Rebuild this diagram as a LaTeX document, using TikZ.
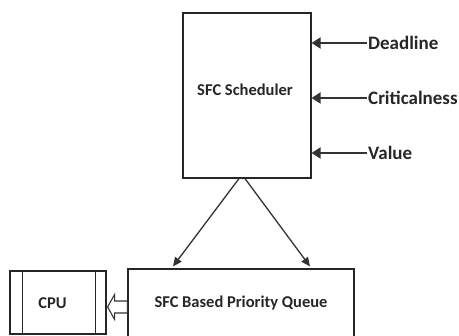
\documentclass[tikz,border=0pt]{standalone}
\usepackage{fontspec}
\setmainfont{Carlito}
\usetikzlibrary{arrows.meta,calc}
\begin{document}
\begin{tikzpicture}[x=1pt,y=-1pt,
  box/.style={draw=black!85, line width=1.2pt, inner sep=0pt},
  boxtext/.style={font=\bfseries\fontsize{16.5}{18}\selectfont, text=black!85},
  lab/.style={font=\bfseries\fontsize{19}{21}\selectfont, text=black!85, anchor=west, inner sep=0pt},
  inarrow/.style={draw=black!80, line width=2pt, -{Triangle[length=9pt,width=11pt]}},
  outarrow/.style={draw=black!80, line width=1.3pt, -{Triangle[length=9pt,width=8pt]}},
  hollow/.style={draw=black!80, line width=1.1pt, line join=miter}]
\useasboundingbox (0,0) rectangle (459,336);

% scheduler and its three inputs
\node[box, minimum width=128pt, minimum height=165pt] (sched) at (247,95.5) {};
\node[boxtext] at (245,90) {SFC Scheduler};
\node[lab] (dl) at (368,43) {Deadline};
\node[lab] (cr) at (368,98) {Criticalness};
\node[lab] (va) at (368,153) {Value};
\foreach \n in {dl,cr,va}
  \draw[inarrow] ($(\n.west)+(-1,0)$) -- (\n.west -| sched.east);

% priority queue (bottom edge runs off the page)
\node[box, minimum width=226pt, minimum height=68pt, boxtext] (q) at (241,303) {SFC Based Priority Queue};

% CPU box with its two inner bars
\node[box, minimum width=96pt, minimum height=63pt] (cpu) at (58,302.5) {};
\node[boxtext] at (52.5,303) {CPU};
\draw[box] ($(cpu.north west)+(13,0)$) -- ($(cpu.south west)+(13,0)$);
\draw[box] ($(cpu.north east)+(-11,0)$) -- ($(cpu.south east)+(-11,0)$);

% scheduler feeding the queue
\draw[outarrow] ($(sched.south)+(-8,0)$) -- ($(q.north)+(-68,-2)$);
\draw[outarrow] ($(sched.south)+(-2,0)$) -- ($(q.north)+(69,-2)$);

% hollow arrow from queue to CPU
\coordinate (tip) at ($(cpu.east)+(1,4.5)$);
\draw[hollow] (tip) -- ++(7,-12.5) -- ++(0,6.5) -- ($(q.west)+(0,-2)$) -- ($(q.west)+(0,10)$) -- ($(tip)+(7,6)$) -- ++(0,6.5) -- cycle;
\end{tikzpicture}
\end{document}
